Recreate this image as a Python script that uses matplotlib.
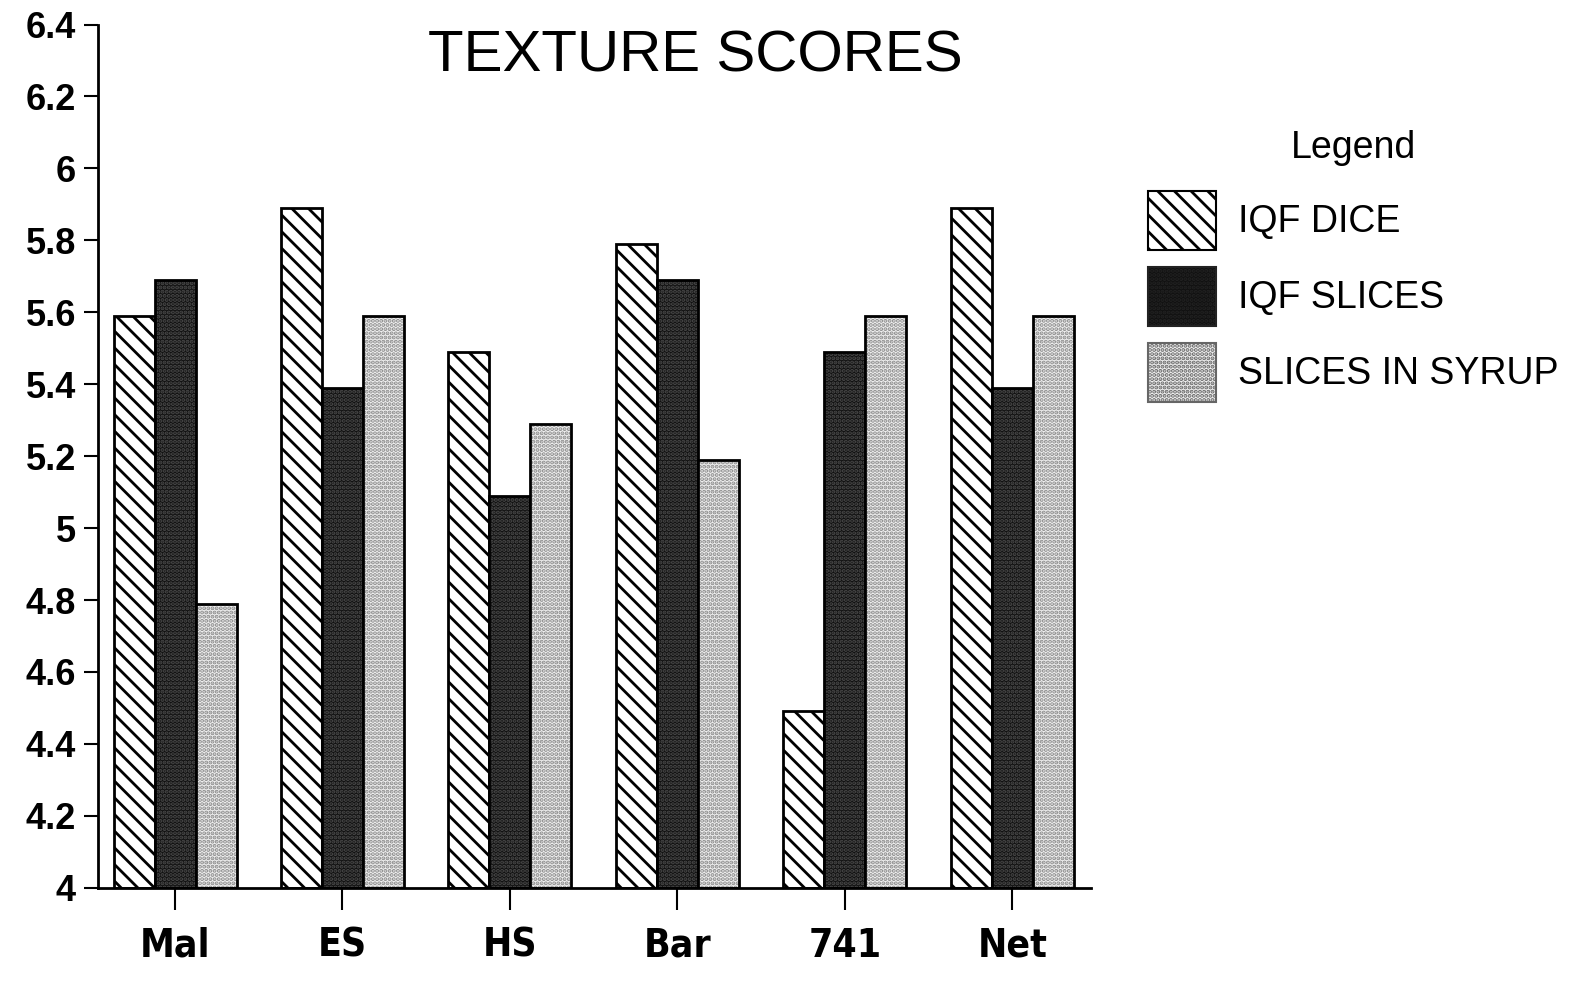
import matplotlib
matplotlib.use("Agg")
import matplotlib.pyplot as plt
import numpy as np
from matplotlib.patches import Patch

plt.rcParams['font.family'] = ['Liberation Sans', 'DejaVu Sans']
plt.rcParams['hatch.linewidth'] = 2.0

varieties = ["Mal", "ES", "HS", "Bar", "741", "Net"]
series = ["IQF DICE", "IQF SLICES", "SLICES IN SYRUP"]
iqf_dice = [5.59, 5.89, 5.49, 5.79, 4.49, 5.89]
iqf_slices = [5.69, 5.39, 5.09, 5.69, 5.49, 5.39]
slices_syrup = [4.79, 5.59, 5.29, 5.19, 5.59, 5.59]
yticks = [4, 4.2, 4.4, 4.6, 4.8, 5, 5.2, 5.4, 5.6, 5.8, 6, 6.2, 6.4]
ytick_labels = ["4", "4.2", "4.4", "4.6", "4.8", "5", "5.2", "5.4", "5.6",
                "5.8", "6", "6.2", "6.4"]

styles = [
    dict(facecolor="white", edgecolor="black", hatch="\\\\"),
    dict(facecolor="#111111", edgecolor="#4a4a4a", hatch="...."),
    dict(facecolor="#efefef", edgecolor="#8a8a8a", hatch="...."),
]

fig = plt.figure(figsize=(15.81, 9.82), dpi=100)
ax = fig.add_axes([0.062, 0.096, 0.628, 0.879])

x = np.arange(len(varieties))
w = 0.245
for i, vals in enumerate([iqf_dice, iqf_slices, slices_syrup]):
    pos = x + (i - 1) * w
    heights = np.array(vals) - 4
    ax.bar(pos, heights, w, bottom=4, linewidth=0, **styles[i])
    ax.bar(pos, heights, w, bottom=4, fill=False, edgecolor="black", linewidth=2)

ax.set_ylim(4, 6.4)
ax.set_xlim(-0.46, 5.47)
ax.set_yticks(yticks)
ax.set_yticklabels(ytick_labels, fontsize=26, fontweight="bold")
ax.set_xticks(x)
ax.set_xticklabels(varieties, fontsize=28, fontweight="bold",
                   family=["Liberation Sans Narrow", "DejaVu Sans"],
                   fontstretch="condensed")
ax.tick_params(axis="y", length=10, width=1.5, pad=6)
ax.tick_params(axis="x", length=16, width=1.5, pad=12)
for side in ["top", "right"]:
    ax.spines[side].set_visible(False)
for side in ["left", "bottom"]:
    ax.spines[side].set_linewidth(2)

fig.text(0.44, 0.942, "TEXTURE SCORES", fontsize=42, ha="center", va="center")

handles = []
for i, name in enumerate(series):
    st = dict(styles[i])
    if i > 0:
        st["edgecolor"] = "#222222" if i == 1 else "#666666"
    handles.append(Patch(label=name, linewidth=1.5, **st))
leg = fig.legend(handles=handles, loc="upper left", bbox_to_anchor=(0.705, 0.902),
                 frameon=False, fontsize=27, title="Legend", title_fontsize=27,
                 handlelength=1.8, handleheight=2.05, labelspacing=0.45,
                 handletextpad=0.6)
leg._legend_box.sep = 18

fig.savefig("out.png", dpi=100)
